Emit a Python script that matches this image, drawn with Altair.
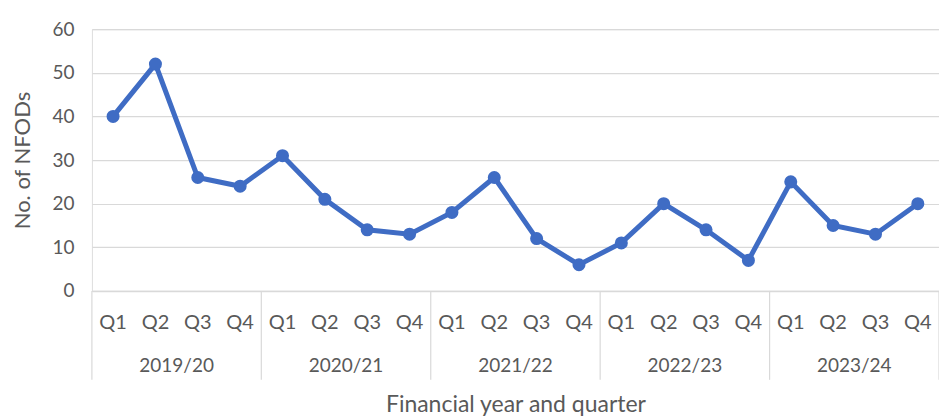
import altair as alt
import pandas as pd

years = ["2019/20", "2020/21", "2021/22", "2022/23", "2023/24"]
quarters = ["Q1", "Q2", "Q3", "Q4"]
values = [40, 52, 26, 24, 31, 21, 14, 13, 18, 26, 12, 6, 11, 20, 14, 7, 25, 15, 13, 20]

rows = []
for yi, yr in enumerate(years):
    for qi, q in enumerate(quarters):
        i = yi * 4 + qi
        rows.append({"i": i, "year": yr, "quarter": q, "value": values[i]})
df = pd.DataFrame(rows)

year_df = pd.DataFrame({"year": years, "mid": [yi * 4 + 1.5 for yi in range(len(years))]})
sep_df = pd.DataFrame({"pos": [yi * 4 - 0.5 for yi in range(len(years) + 1)]})

FONT = "Lato"
TXT = "#595959"
GRID = "#d9d9d9"
BLUE = "#3f6cc4"
H = 262

xscale = alt.Scale(domain=[-0.5, 19.5], nice=False, zero=False)

x_axis = alt.Axis(
    labels=False, ticks=False, grid=False, domain=True, domainColor=GRID,
    domainWidth=1.5, title="Financial year and quarter", titleFont=FONT,
    titleFontSize=23, titleFontWeight="normal", titleColor=TXT,
    titleY=114, titleBaseline="middle",
)
y_axis = alt.Axis(
    values=[0, 10, 20, 30, 40, 50, 60], grid=True, gridColor=GRID, gridWidth=1.2,
    domain=False, ticks=False, labelFont=FONT, labelFontSize=19, labelColor=TXT,
    labelPadding=18, title="No. of NFODs", titleFont=FONT, titleFontSize=22,
    titleFontWeight="normal", titleColor=TXT, titlePadding=17,
)

line = alt.Chart(df).mark_line(color=BLUE, strokeWidth=5).encode(
    x=alt.X("i:Q", scale=xscale, axis=x_axis),
    y=alt.Y("value:Q", scale=alt.Scale(domain=[0, 60], nice=False), axis=y_axis),
)
pts = alt.Chart(df).mark_circle(color=BLUE, size=170, opacity=1).encode(
    x=alt.X("i:Q", scale=xscale),
    y=alt.Y("value:Q", scale=alt.Scale(domain=[0, 60], nice=False)),
)
qlab = alt.Chart(df).mark_text(font=FONT, fontSize=20, color=TXT, baseline="middle").encode(
    x=alt.X("i:Q", scale=xscale),
    y=alt.value(H + 32),
    text="quarter:N",
)
ylab = alt.Chart(year_df).mark_text(font=FONT, fontSize=19, color=TXT, baseline="middle").encode(
    x=alt.X("mid:Q", scale=xscale),
    y=alt.value(H + 75),
    text="year:N",
)
seps = alt.Chart(sep_df).mark_rule(color=GRID, strokeWidth=1.2).encode(
    x=alt.X("pos:Q", scale=xscale),
    y=alt.value(H),
    y2=alt.value(H + 89),
)

chart = alt.layer(seps, line, pts, qlab, ylab).properties(
    width=848, height=H,
    autosize=alt.AutoSizeParams(type="none"),
    padding={"left": 92, "top": 29, "right": 0, "bottom": 128},
).configure_view(stroke=None).configure(background="white")

chart.save("out.html", embed_options={"renderer": "svg", "actions": False})
